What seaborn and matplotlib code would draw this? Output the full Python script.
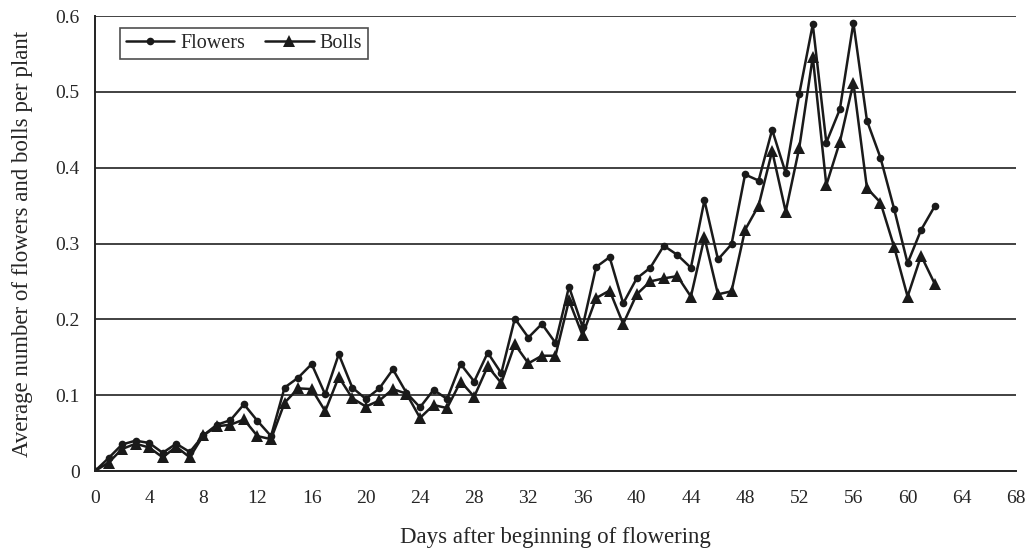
import matplotlib
matplotlib.use("Agg")
import matplotlib.pyplot as plt
import pandas as pd
import seaborn as sns

# values
days = list(range(0, 63))
flowers = [
    0.0, 0.017, 0.035, 0.040, 0.037, 0.024, 0.036, 0.025, 0.047, 0.061,
    0.067, 0.088, 0.066, 0.046, 0.110, 0.123, 0.141, 0.101, 0.154, 0.110,
    0.095, 0.109, 0.134, 0.103, 0.084, 0.107, 0.095, 0.141, 0.118, 0.156,
    0.129, 0.201, 0.176, 0.194, 0.169, 0.243, 0.190, 0.269, 0.282, 0.221,
    0.254, 0.268, 0.297, 0.285, 0.268, 0.357, 0.279, 0.299, 0.391, 0.383,
    0.450, 0.393, 0.497, 0.589, 0.433, 0.477, 0.591, 0.462, 0.413, 0.346,
    0.274, 0.318, 0.349,
]
bolls = [
    0.0, 0.011, 0.029, 0.036, 0.031, 0.018, 0.032, 0.018, 0.047, 0.059,
    0.061, 0.068, 0.046, 0.042, 0.090, 0.109, 0.108, 0.079, 0.124, 0.096,
    0.085, 0.093, 0.108, 0.102, 0.070, 0.087, 0.083, 0.118, 0.098, 0.138,
    0.116, 0.167, 0.142, 0.152, 0.152, 0.225, 0.179, 0.228, 0.238, 0.194,
    0.233, 0.250, 0.254, 0.257, 0.230, 0.308, 0.233, 0.237, 0.318, 0.350,
    0.422, 0.342, 0.426, 0.546, 0.377, 0.434, 0.512, 0.373, 0.354, 0.296,
    0.230, 0.284, 0.247,
]
x_ticks = list(range(0, 69, 4))
y_ticks = [0, 0.1, 0.2, 0.3, 0.4, 0.5, 0.6]
y_tick_labels = ["0", "0.1", "0.2", "0.3", "0.4", "0.5", "0.6"]

df = pd.DataFrame({"day": days, "Flowers": flowers, "Bolls": bolls})

sns.set_theme(style="white")
plt.rcParams["font.family"] = ["Liberation Serif", "DejaVu Serif"]

fig = plt.figure(figsize=(10.29, 5.48), dpi=100)
ax = fig.add_axes([0.0923, 0.1405, 0.895, 0.8303])

sns.lineplot(data=df, x="day", y="Flowers", ax=ax, color="#1a1a1a", lw=1.8,
             marker="o", markersize=5.5, markeredgewidth=0, label="Flowers")
sns.lineplot(data=df, x="day", y="Bolls", ax=ax, color="#1a1a1a", lw=1.8,
             marker="^", markersize=8, markeredgewidth=0, label="Bolls")

ax.set_xlim(0, 68)
ax.set_ylim(0, 0.6)
ax.set_xticks(x_ticks)
ax.set_yticks(y_ticks)
ax.set_yticklabels(y_tick_labels)
for y in y_ticks[1:]:
    ax.axhline(y, color="#333333", lw=1.3, zorder=0)

ax.tick_params(axis="y", direction="out", length=5, width=1.2, color="#222222",
               labelsize=14, pad=6)
ax.tick_params(axis="x", length=0, labelsize=14, pad=14)

for side in ["top", "right"]:
    ax.spines[side].set_visible(False)
for side in ["left", "bottom"]:
    ax.spines[side].set_color("#222222")
    ax.spines[side].set_linewidth(1.4)

ax.set_xlabel("Days after beginning of flowering", fontsize=16.5, labelpad=14)
ax.set_ylabel("Average number of flowers and bolls per plant", fontsize=16.5, labelpad=16)

leg = ax.legend(loc="upper left", bbox_to_anchor=(0.027, 0.974), ncol=2,
                frameon=True, fancybox=False, fontsize=14.5, handlelength=2.4,
                handletextpad=0.3, columnspacing=1.0, borderpad=0.3,
                borderaxespad=0)
leg.get_frame().set_edgecolor("#222222")
leg.get_frame().set_linewidth(1.2)

fig.savefig("out.png", dpi=100)
